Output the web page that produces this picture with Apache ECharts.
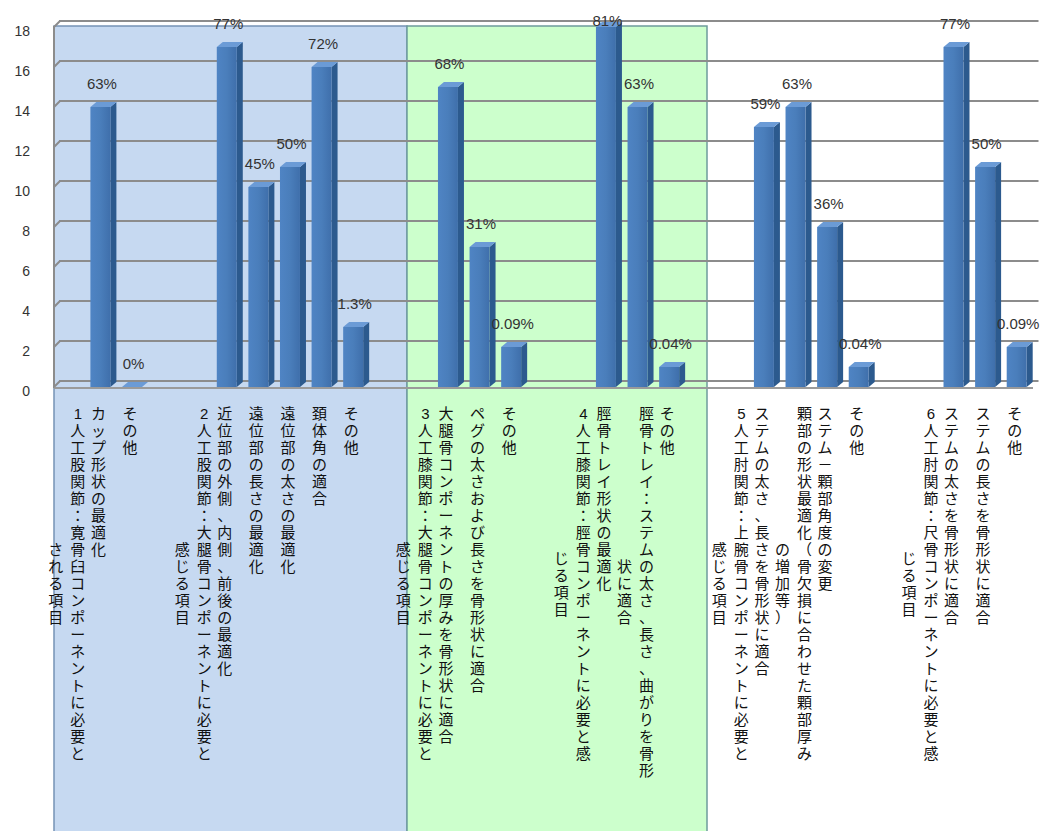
<!DOCTYPE html>
<html><head><meta charset="utf-8">
<script src="https://cdn.jsdelivr.net/npm/echarts@6/dist/echarts.min.js"></script>
<style>html,body{margin:0;padding:0;background:#fff}#c{width:1045px;height:831px}</style>
</head><body><div id="c"></div>
<script>
// ---- data ----
const categories = [
  '1 人工股関節：寛骨臼コンポーネントに必要と\nされる項目',
  'カップ形状の最適化',
  'その他',
  '',
  '2 人工股関節：大腿骨コンポーネントに必要と\n感じる項目',
  '近位部の外側、内側、前後の最適化',
  '遠位部の長さの最適化',
  '遠位部の太さの最適化',
  '頚体角の適合',
  'その他',
  '',
  '3 人工膝関節：大腿骨コンポーネントに必要と\n感じる項目',
  '大腿骨コンポーネントの厚みを骨形状に適合',
  'ペグの太さおよび長さを骨形状に適合',
  'その他',
  '',
  '4 人工膝関節：脛骨コンポーネントに必要と感\nじる項目',
  '脛骨トレイ形状の最適化',
  '脛骨トレイ：ステムの太さ、長さ、曲がりを骨形\n状に適合',
  'その他',
  '',
  '5 人工肘関節：上腕骨コンポーネントに必要と\n感じる項目',
  'ステムの太さ、長さを骨形状に適合',
  '顆部の形状最適化（骨欠損に合わせた顆部厚み\nの増加等）',
  'ステム－顆部角度の変更',
  'その他',
  '',
  '6 人工肘関節：尺骨コンポーネントに必要と感\nじる項目',
  'ステムの太さを骨形状に適合',
  'ステムの長さを骨形状に適合',
  'その他'
];
const counts = [null, 14, 0, null, null, 17, 10, 11, 16, 3, null, null, 15, 7, 2, null, null, 18, 14, 1, null, null, 13, 14, 8, 1, null, null, 17, 11, 2];
const pctLabels = ['', '63%', '0%', '', '', '77%', '45%', '50%', '72%', '1.3%', '', '', '68%', '31%', '0.09%', '', '', '81%', '63%', '0.04%', '', '', '59%', '63%', '36%', '0.04%', '', '', '77%', '50%', '0.09%'];
const yMin = 0, yMax = 18, yStep = 2;

// ---- chart ----
const chart = echarts.init(document.getElementById('c'), null, {renderer: 'svg'});
const JP = '"Liberation Sans", "Noto Sans CJK JP", "Noto Sans CJK SC", sans-serif';
const NUM = '"Liberation Sans", Arial, sans-serif';
const DEPTH_X = 6, DEPTH_Y = 5, SHIFT_X = -6, SHIFT_Y = 6, BAR_W = 20;

function renderBar(params, api) {
  const v = api.value(1);
  if (v === null || v === undefined || isNaN(v)) return null;
  const idx = api.value(0);
  const pt = api.coord([idx, v]);
  const bs = api.coord([idx, 0]);
  const fx = pt[0] + SHIFT_X;
  const ty = pt[1] + SHIFT_Y, by = bs[1] + SHIFT_Y;
  const l = fx - BAR_W / 2, r = fx + BAR_W / 2;
  const children = [
    {type: 'polygon', shape: {points: [[r, ty], [r + DEPTH_X, ty - DEPTH_Y], [r + DEPTH_X, by - DEPTH_Y], [r, by]]},
      style: {fill: '#2c5a8e'}},
    {type: 'polygon', shape: {points: [[l, ty], [l + DEPTH_X, ty - DEPTH_Y], [r + DEPTH_X, ty - DEPTH_Y], [r, ty]]},
      style: {fill: '#6b9bd6'}},
    {type: 'rect', shape: {x: l, y: ty, width: BAR_W, height: Math.max(by - ty, 0)},
      style: {fill: new echarts.graphic.LinearGradient(0, 0, 1, 0, [
        {offset: 0, color: '#4f84c4'}, {offset: 0.5, color: '#4a7ebb'}, {offset: 1, color: '#3f6fab'}])}},
    {type: 'text', style: {x: fx + 1.5, y: Math.max(ty - 24, 20), text: pctLabels[idx],
      align: 'center', verticalAlign: 'middle', fill: '#333', font: '15px ' + NUM}}
  ];
  return {type: 'group', children};
}

const LINE_H = 17, COL_GAP = 22, LABEL_TOP = 405;
function renderLabel(params, api) {
  const idx = api.value(0);
  const txt = categories[idx];
  if (!txt) return null;
  const cols = txt.split('\n').map(s => Array.from(s.replace(/ /g, '')));
  const maxLen = Math.max(...cols.map(c => c.length));
  const cx = api.coord([idx, 0])[0] - 8;
  const n = cols.length;
  const midY = LABEL_TOP + maxLen * LINE_H / 2;
  const children = cols.map((c, k) => ({
    type: 'text',
    style: {
      x: cx + ((n - 1) / 2 - k) * COL_GAP, y: midY, text: c.join('\n'),
      align: 'center', verticalAlign: 'middle', lineHeight: LINE_H,
      fill: '#111', font: '15px ' + JP
    }
  }));
  return {type: 'group', children};
}

const baseGraphic = [
  {type: 'rect', z: -10, shape: {x: 54, y: 26, width: 353, height: 812},
    style: {fill: '#c6d9f1', stroke: '#7693b5', lineWidth: 1.5}},
  {type: 'rect', z: -10, shape: {x: 407, y: 26, width: 300, height: 812},
    style: {fill: '#ccffcc', stroke: '#6e9c9c', lineWidth: 1.5}},
  {type: 'line', z: 5, shape: {x1: 54, y1: 26, x2: 54, y2: 388}, style: {stroke: '#8c8c8c', lineWidth: 2}},
  {type: 'line', z: 5, shape: {x1: 54, y1: 388, x2: 1033, y2: 388}, style: {stroke: '#9a9a9a', lineWidth: 2}}
];

chart.setOption({
  animation: false,
  backgroundColor: '#fff',
  grid: {left: 59, right: 6.5, top: 21, bottom: 450, containLabel: false},
  xAxis: {
    type: 'category', data: categories, boundaryGap: true,
    axisLine: {show: false}, axisTick: {show: false}, axisLabel: {show: false}, splitLine: {show: false}
  },
  yAxis: {
    type: 'value', min: yMin, max: yMax, interval: yStep,
    axisLine: {show: false}, axisTick: {show: false},
    axisLabel: {margin: 29, color: '#333', fontFamily: NUM, fontSize: 14, verticalAlign: 'top', lineHeight: 20},
    splitLine: {show: true, lineStyle: {color: '#8c8c8c', width: 2}}
  },
  graphic: baseGraphic,
  series: [
    {type: 'custom', name: 'counts', renderItem: renderBar, clip: false,
      encode: {x: 0, y: 1}, data: categories.map((c, i) => [i, counts[i]]), z: 3},
    {type: 'custom', name: 'labels', renderItem: renderLabel, clip: false,
      encode: {x: 0, y: 1}, data: categories.map((c, i) => [i, 0]), z: 4}
  ]
});

// 3D side-wall stubs joining each gridline to the front edge
const stubs = [];
for (let v = yMin; v <= yMax; v += yStep) {
  const y = chart.convertToPixel({yAxisIndex: 0}, v);
  stubs.push({type: 'line', z: 5, shape: {x1: 54, y1: y + 6, x2: 60, y2: y},
    style: {stroke: '#8c8c8c', lineWidth: 2}});
}
chart.setOption({graphic: baseGraphic.concat(stubs)});
</script></body></html>
